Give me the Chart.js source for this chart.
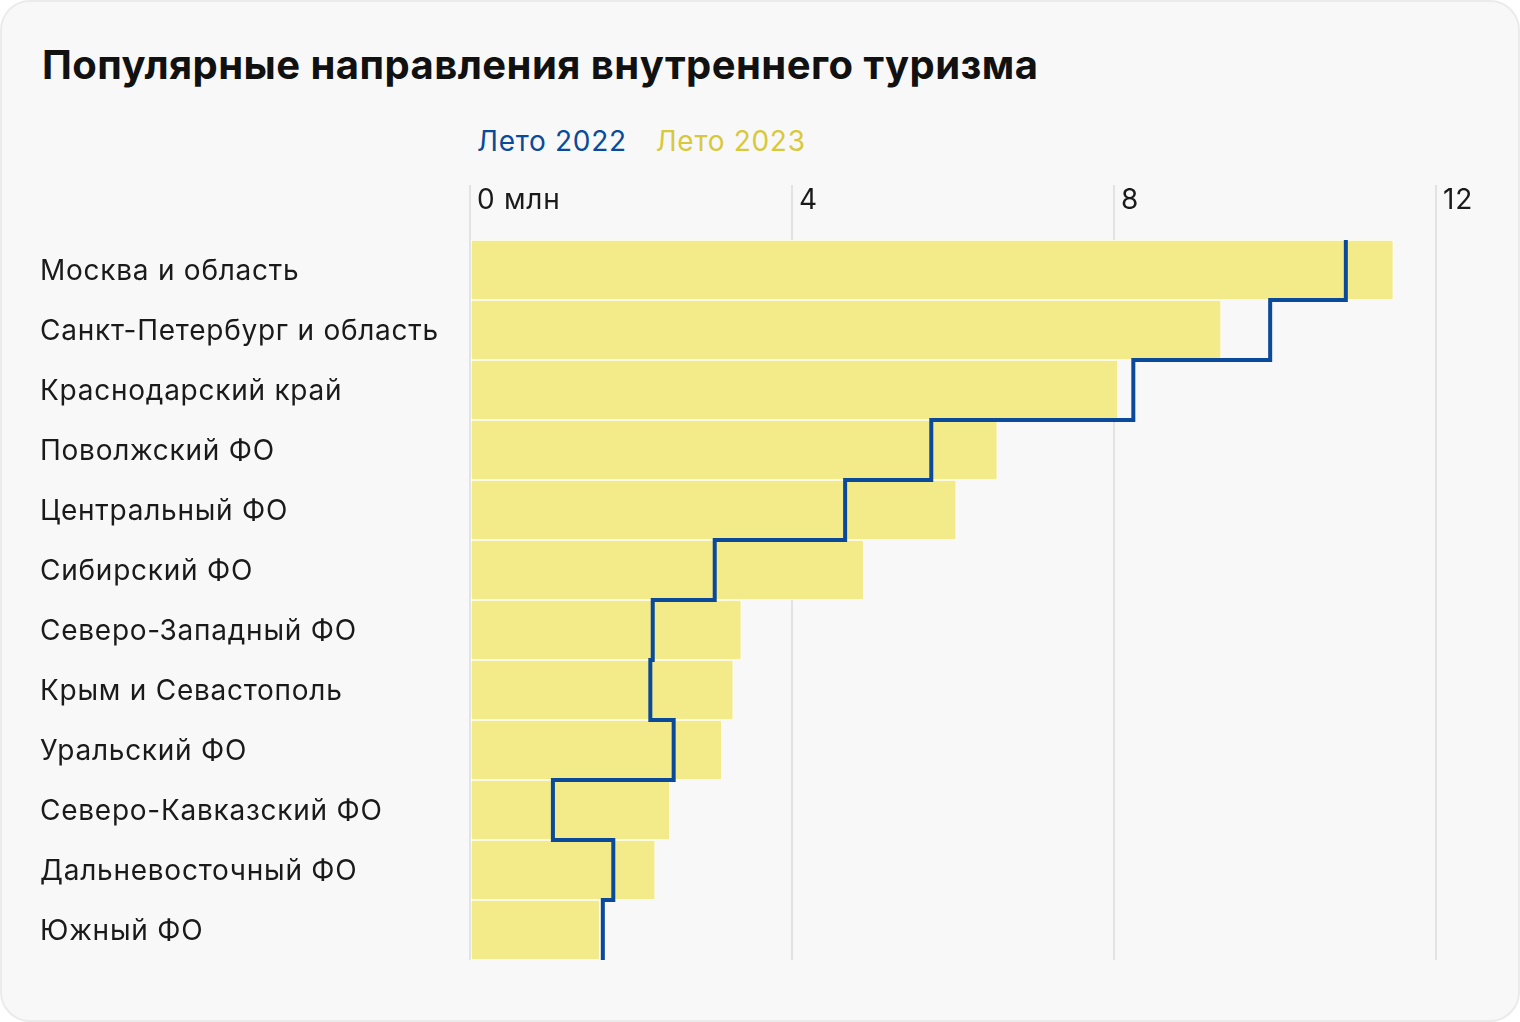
<!DOCTYPE html>
<html>
<head>
<meta charset="utf-8">
<script src="https://cdn.jsdelivr.net/npm/chart.js@4/dist/chart.umd.min.js"></script>
<style>
  html, body { margin: 0; padding: 0; background: #ffffff; }
  #card {
    position: absolute; left: 0; top: 0; width: 1516px; height: 1018px;
    background: #f8f8f8; border: 2px solid #ebebeb; border-radius: 30px;
    overflow: hidden;
  }
  #title {
    position: absolute; left: 40px; top: 38px; margin: 0;
    font-family: Inter, Roboto, sans-serif; font-weight: 700;
    font-size: 40px; line-height: 50px; color: #111; letter-spacing: 0.45px;
  }
  #legend {
    position: absolute; left: 475px; top: 121px;
    font-family: Inter, Roboto, sans-serif; font-size: 28px; line-height: 36px; letter-spacing: 0.7px;
  }
  #legend span { margin-right: 29px; }
  #wrap { position: absolute; left: -2px; top: -2px; width: 1520px; height: 1022px; }
</style>
</head>
<body>
<div id="card">
  <h1 id="title">Популярные направления внутреннего туризма</h1>
  <div id="legend"><span id="lg22" style="color:#0b4a9b">Лето 2022</span><span id="lg23" style="color:#d8c93c">Лето 2023</span></div>
  <div id="wrap"><canvas id="c" width="1520" height="1022"></canvas></div>
</div>
<script>
const categories = [
  'Москва и область',
  'Санкт-Петербург и область',
  'Краснодарский край',
  'Поволжский ФО',
  'Центральный ФО',
  'Сибирский ФО',
  'Северо-Западный ФО',
  'Крым и Севастополь',
  'Уральский ФО',
  'Северо-Кавказский ФО',
  'Дальневосточный ФО',
  'Южный ФО'
];
const summer2023 = [11.47, 9.33, 8.05, 6.55, 6.04, 4.89, 3.37, 3.27, 3.13, 2.48, 2.30, 1.61];
const summer2022 = [10.88, 9.94, 8.24, 5.73, 4.66, 3.04, 2.27, 2.24, 2.53, 1.03, 1.78, 1.65];
const xTicks = [0, 4, 8, 12];
const seriesNames = ['Лето 2022', 'Лето 2023'];

// step outline of the 2022 series: each category spans index-0.5 .. index+0.5 on the category axis
const stepPoints = [];
summer2022.forEach((v, i) => {
  stepPoints.push({ x: v, y: i - 0.5 });
  stepPoints.push({ x: v, y: i + 0.5 });
});

const FONT = 'Inter, Roboto, sans-serif';

const spacingPlugin = {
  id: 'spacing',
  beforeDraw(chart) { chart.ctx.letterSpacing = '0.75px'; }
};

new Chart(document.getElementById('c'), {
  type: 'bar',
  plugins: [spacingPlugin],
  data: {
    labels: categories,
    datasets: [
      {
        type: 'line',
        label: seriesNames[0],
        data: stepPoints,
        parsing: false,
        normalized: true,
        xAxisID: 'x',
        yAxisID: 'y',
        borderColor: '#0b4a9b',
        borderWidth: 4,
        pointRadius: 0,
        tension: 0,
        fill: false,
        borderJoinStyle: 'miter',
        borderCapStyle: 'butt',
        order: 0,
        clip: false
      },
      {
        type: 'bar',
        label: seriesNames[1],
        data: summer2023,
        xAxisID: 'x',
        yAxisID: 'y',
        backgroundColor: '#f3ea8a',
        borderColor: '#ffffff',
        borderWidth: 1,
        borderSkipped: false,
        barPercentage: 1,
        categoryPercentage: 1,
        order: 1
      }
    ]
  },
  options: {
    indexAxis: 'y',
    responsive: false,
    animation: false,
    layout: { padding: { left: 40, right: 84, top: 185, bottom: 62 } },
    plugins: { legend: { display: false }, tooltip: { enabled: false } },
    scales: {
      x: {
        type: 'linear',
        position: 'top',
        min: 0, max: 12,
        afterBuildTicks: (s) => { s.ticks = xTicks.map(v => ({ value: v })); },
        afterFit: (s) => { s.height = 55; },
        ticks: {
          align: 'start',
          labelOffset: 7,
          padding: -32,
          color: '#1a1a1a',
          font: { family: FONT, size: 28 },
          callback: (v) => v === 0 ? '0 млн' : String(v)
        },
        grid: { color: '#e2e2e2', lineWidth: 2, drawTicks: true, tickLength: 55, tickColor: '#e2e2e2' },
        border: { display: false }
      },
      y: {
        type: 'category',
        position: 'left',
        offset: true,
        afterFit: (s) => { s.width = 430; },
        ticks: {
          crossAlign: 'far',
          labelOffset: 2,
          color: '#1a1a1a',
          font: { family: FONT, size: 28 }
        },
        grid: { display: false },
        border: { display: false }
      }
    }
  }
});
</script>
</body>
</html>
